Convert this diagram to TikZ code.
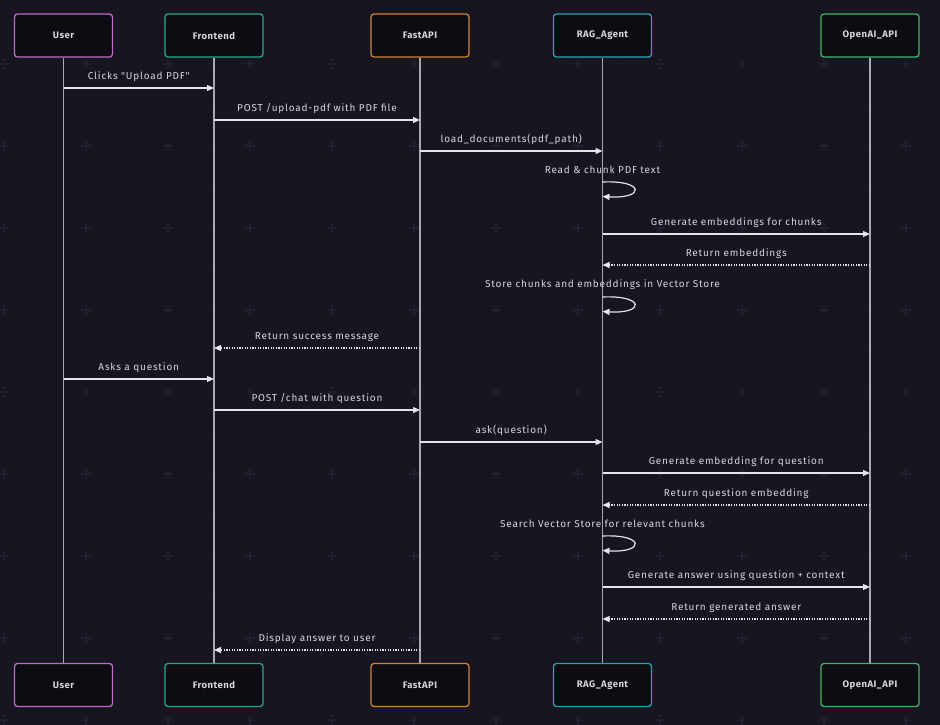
\documentclass[tikz,border=0pt]{standalone}
\usepackage{fontspec}
\setmainfont{Fira Sans}
\newfontfamily\lblfont[LetterSpace=8]{Fira Sans}
\newfontfamily\boxfont[LetterSpace=5]{Fira Sans}
\usetikzlibrary{arrows.meta}
\definecolor{bg}{HTML}{17151F}
\definecolor{boxfill}{HTML}{0D0C12}
\definecolor{gridc}{HTML}{211F30}
\definecolor{dotc}{HTML}{1D1B29}
\definecolor{lbl}{HTML}{D6D6DC}
\definecolor{lifec}{HTML}{A8A8B0}
\definecolor{msgc}{HTML}{E4E4EA}
\definecolor{cuser}{HTML}{BF6BCB}
\definecolor{cfront}{HTML}{2BA58B}
\definecolor{cfast}{HTML}{D3813B}
\definecolor{crag}{HTML}{2AA2B6}
\definecolor{copen}{HTML}{3FB46C}
\tikzset{
  actor/.style={draw, rounded corners=3pt, minimum width=98pt, minimum height=43pt,
    fill=boxfill, line width=1.3pt, text=lbl, font=\boxfont\fontsize{9.5}{11}\selectfont\bfseries},
  life/.style={draw=lifec, line width=1.3pt},
  msg/.style={draw=msgc, line width=1.2pt, -{Triangle[length=7pt,width=6pt]}},
  ret/.style={msg, dash pattern=on 1.3pt off 1.3pt},
  mlabel/.style={text=lbl, font=\lblfont\fontsize{10}{12}\selectfont, inner sep=1pt}
}
\begin{document}
\begin{tikzpicture}[x=1pt,y=-1pt]
\fill[bg] (0,0) rectangle (940,725);
\useasboundingbox (0,0) rectangle (940,725);
% background grid
\foreach \i in {0,...,22}{
  \foreach \j in {0,...,17}{
    \fill[dotc] ({4+41*\i},{23+41*\j}) circle (1.1pt);
  }
}
\foreach \i in {0,...,11}{
  \foreach \j in {0,...,8}{
    \draw[gridc, line width=1.2pt] ({4+82*\i-5},{64+82*\j}) -- ({4+82*\i+5},{64+82*\j})
      ({4+82*\i},{64+82*\j-5}) -- ({4+82*\i},{64+82*\j+5});
  }
}
% actors top
\node[actor, draw=cuser]  (uT) at (63.5,35.5)  {User};
\node[actor, draw=cfront] (fT) at (214,35.5)   {Frontend};
\node[actor, draw=cfast]  (aT) at (420,35.5)   {FastAPI};
\node[actor, draw=crag]   (rT) at (602.5,35.5) {RAG\_Agent};
\node[actor, draw=copen]  (oT) at (870,35.5)   {OpenAI\_API};
% actors bottom
\node[actor, draw=cuser]  (uB) at (63.5,685)  {User};
\node[actor, draw=cfront] (fB) at (214,685)   {Frontend};
\node[actor, draw=cfast]  (aB) at (420,685)   {FastAPI};
\node[actor, draw=crag]   (rB) at (602.5,685) {RAG\_Agent};
\node[actor, draw=copen]  (oB) at (870,685)   {OpenAI\_API};
% lifelines
\draw[life] (uT.south) -- (uB.north);
\draw[life] (fT.south) -- (fB.north);
\draw[life] (aT.south) -- (aB.north);
\draw[life] (rT.south) -- (rB.north);
\draw[life] (oT.south) -- (oB.north);
% messages
\draw[msg] (uT |- 0,88) -- (fT |- 0,88) node[mlabel, midway, above=5pt] {Clicks "Upload PDF"};
\draw[msg] (fT |- 0,120) -- (aT |- 0,120) node[mlabel, midway, above=5pt] {POST /upload-pdf with PDF file};
\draw[msg] (aT |- 0,151) -- (rT |- 0,151) node[mlabel, midway, above=5pt] {load\_documents(pdf\_path)};
\node[mlabel] (s1) at (602.5,170) {Read \& chunk PDF text};
\draw[msg] (rT |- 0,182) .. controls (645,180) and (645,199) .. (rT |- 0,196.5);
\draw[msg] (rT |- 0,234) -- (oT |- 0,234) node[mlabel, midway, above=5pt] {Generate embeddings for chunks};
\draw[ret] (oT |- 0,265) -- (rT |- 0,265) node[mlabel, midway, above=5pt] {Return embeddings};
\node[mlabel] (s2) at (602.5,285) {Store chunks and embeddings in Vector Store};
\draw[msg] (rT |- 0,297) .. controls (645,295) and (645,314) .. (rT |- 0,311.5);
\draw[ret] (aT |- 0,348) -- (fT |- 0,348) node[mlabel, midway, above=5pt] {Return success message};
\draw[msg] (uT |- 0,379) -- (fT |- 0,379) node[mlabel, midway, above=5pt] {Asks a question};
\draw[msg] (fT |- 0,410) -- (aT |- 0,410) node[mlabel, midway, above=5pt] {POST /chat with question};
\draw[msg] (aT |- 0,442) -- (rT |- 0,442) node[mlabel, midway, above=5pt] {ask(question)};
\draw[msg] (rT |- 0,473) -- (oT |- 0,473) node[mlabel, midway, above=5pt] {Generate embedding for question};
\draw[ret] (oT |- 0,505) -- (rT |- 0,505) node[mlabel, midway, above=5pt] {Return question embedding};
\node[mlabel] (s3) at (602.5,524) {Search Vector Store for relevant chunks};
\draw[msg] (rT |- 0,536) .. controls (645,534) and (645,553) .. (rT |- 0,550.5);
\draw[msg] (rT |- 0,587) -- (oT |- 0,587) node[mlabel, midway, above=5pt] {Generate answer using question + context};
\draw[ret] (oT |- 0,619) -- (rT |- 0,619) node[mlabel, midway, above=5pt] {Return generated answer};
\draw[ret] (aT |- 0,650) -- (fT |- 0,650) node[mlabel, midway, above=5pt] {Display answer to user};
\end{tikzpicture}
\end{document}
